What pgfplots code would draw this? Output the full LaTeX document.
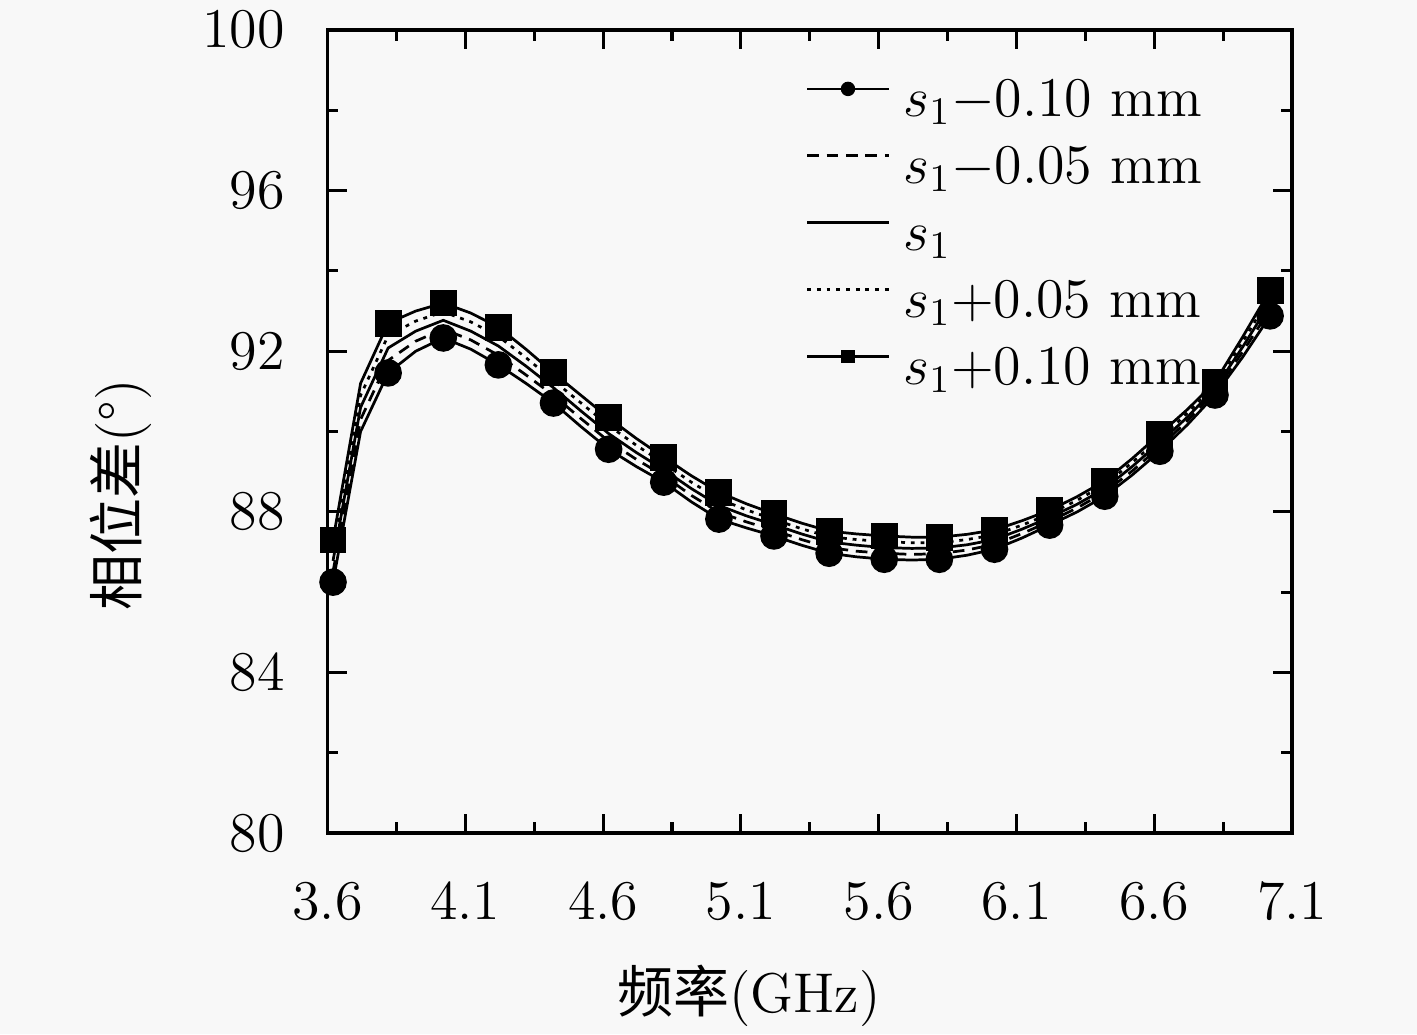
\documentclass[border=0pt]{standalone}
\usepackage{fontspec}
\usepackage{pgfplots}
\usepackage{pgfplotstable}
\pgfplotsset{compat=1.18}
\usetikzlibrary{backgrounds}
\newfontfamily\cjk{Noto Sans CJK SC}
\definecolor{bg}{RGB}{248,248,248}

\pgfplotstableread{
x     L      Ma     Mb     Mc     U
3.62  86.25  86.51  86.78  87.04  87.30
3.72  90.00  90.30  90.60  90.90  91.20
3.82  91.46  91.77  92.08  92.39  92.70
3.92  92.00  92.25  92.50  92.75  93.00
4.02  92.33  92.55  92.77  92.98  93.20
4.12  92.05  92.28  92.50  92.73  92.95
4.22  91.66  91.90  92.13  92.37  92.60
4.32  91.20  91.41  91.63  91.84  92.05
4.42  90.71  90.90  91.09  91.27  91.46
4.52  90.12  90.32  90.51  90.71  90.90
4.62  89.56  89.76  89.95  90.15  90.34
4.72  89.13  89.31  89.48  89.66  89.83
4.82  88.74  88.90  89.05  89.21  89.36
4.92  88.25  88.41  88.58  88.74  88.90
5.02  87.82  87.99  88.16  88.32  88.49
5.12  87.60  87.75  87.90  88.05  88.20
5.22  87.40  87.54  87.68  87.81  87.95
5.32  87.17  87.31  87.45  87.58  87.72
5.42  86.97  87.11  87.25  87.38  87.52
5.52  86.88  87.02  87.17  87.31  87.45
5.62  86.82  86.97  87.11  87.26  87.40
5.72  86.80  86.94  87.09  87.23  87.37
5.82  86.82  86.96  87.10  87.23  87.37
5.92  86.92  87.05  87.18  87.31  87.44
6.02  87.07  87.19  87.31  87.43  87.55
6.12  87.35  87.46  87.57  87.67  87.78
6.22  87.67  87.76  87.86  87.95  88.04
6.32  88.00  88.10  88.19  88.29  88.38
6.42  88.39  88.49  88.58  88.68  88.77
6.52  88.92  89.02  89.13  89.23  89.33
6.62  89.51  89.62  89.73  89.83  89.94
6.72  90.17  90.27  90.36  90.46  90.55
6.82  90.91  90.99  91.07  91.15  91.23
6.92  91.85  91.98  92.10  92.23  92.35
7.02  92.88  93.04  93.20  93.36  93.52
}\data

\begin{document}
\begin{tikzpicture}
\begin{axis}[
  width=248pt, height=206.5pt, scale only axis,
  xmin=3.6, xmax=7.1, ymin=80, ymax=100,
  xtick={3.6,4.1,4.6,5.1,5.6,6.1,6.6,7.1},
  ytick={80,84,88,92,96,100},
  minor x tick num=1, minor y tick num=1,
  major tick length=4.9pt, minor tick length=2.8pt,
  tick style={black, line width=0.8pt},
  axis line style={line width=1pt},
  tick label style={font=\Large},
  xticklabel style={yshift=-9.3pt},
  yticklabel style={xshift=-7.5pt},
  xlabel={{\cjk 频率}(GHz)},
  ylabel={{\cjk 相位差}(°)},
  label style={font=\Large},
  xlabel style={at={(axis description cs:0.437,-0.203)}, anchor=center},
  ylabel style={at={(axis description cs:-0.2145,0.421)}, anchor=center},
  legend cell align=left,
  legend style={draw=none, fill=none, at={(axis description cs:0.495,0.944)}, anchor=north west,
    inner sep=0pt, row sep=3.2pt, column sep=3.5pt, font=\Large,
    nodes={inner sep=0pt, text height=10.5pt, text depth=3.5pt}},
  legend image code/.code={\draw[mark repeat=2,mark phase=2,#1] plot coordinates {(0pt,3.6pt) (10.5pt,3.6pt) (21pt,3.6pt)};},
]
\addplot[black, line width=0.7pt, mark=*, mark size=3.2pt, mark repeat=2, mark phase=1,
  legend image post style={mark size=1.5pt}] table[x=x,y=L]{\data};
\addlegendentry{$s_1{-}0.10$ mm}
\addplot[black, line width=0.7pt, dash pattern=on 3pt off 2pt] table[x=x,y=Ma]{\data};
\addlegendentry{$s_1{-}0.05$ mm}
\addplot[black, line width=0.7pt] table[x=x,y=Mb]{\data};
\addlegendentry{$s_1$}
\addplot[black, line width=0.7pt, dash pattern=on 1pt off 1.5pt] table[x=x,y=Mc]{\data};
\addlegendentry{$s_1{+}0.05$ mm}
\addplot[black, line width=0.7pt, mark=square*, mark size=3.1pt, mark repeat=2, mark phase=1,
  legend image post style={mark size=1.4pt}] table[x=x,y=U]{\data};
\addlegendentry{$s_1{+}0.10$ mm}
\end{axis}
\pgfresetboundingbox
\path[use as bounding box] ([shift={(-84.2pt,-51.7pt)}]current axis.south west) rectangle ([shift={(32.1pt,7.7pt)}]current axis.north east);
\begin{scope}[on background layer]
\fill[bg] ([shift={(-84.2pt,-51.7pt)}]current axis.south west) rectangle ([shift={(32.1pt,7.7pt)}]current axis.north east);
\end{scope}
\end{tikzpicture}
\end{document}
